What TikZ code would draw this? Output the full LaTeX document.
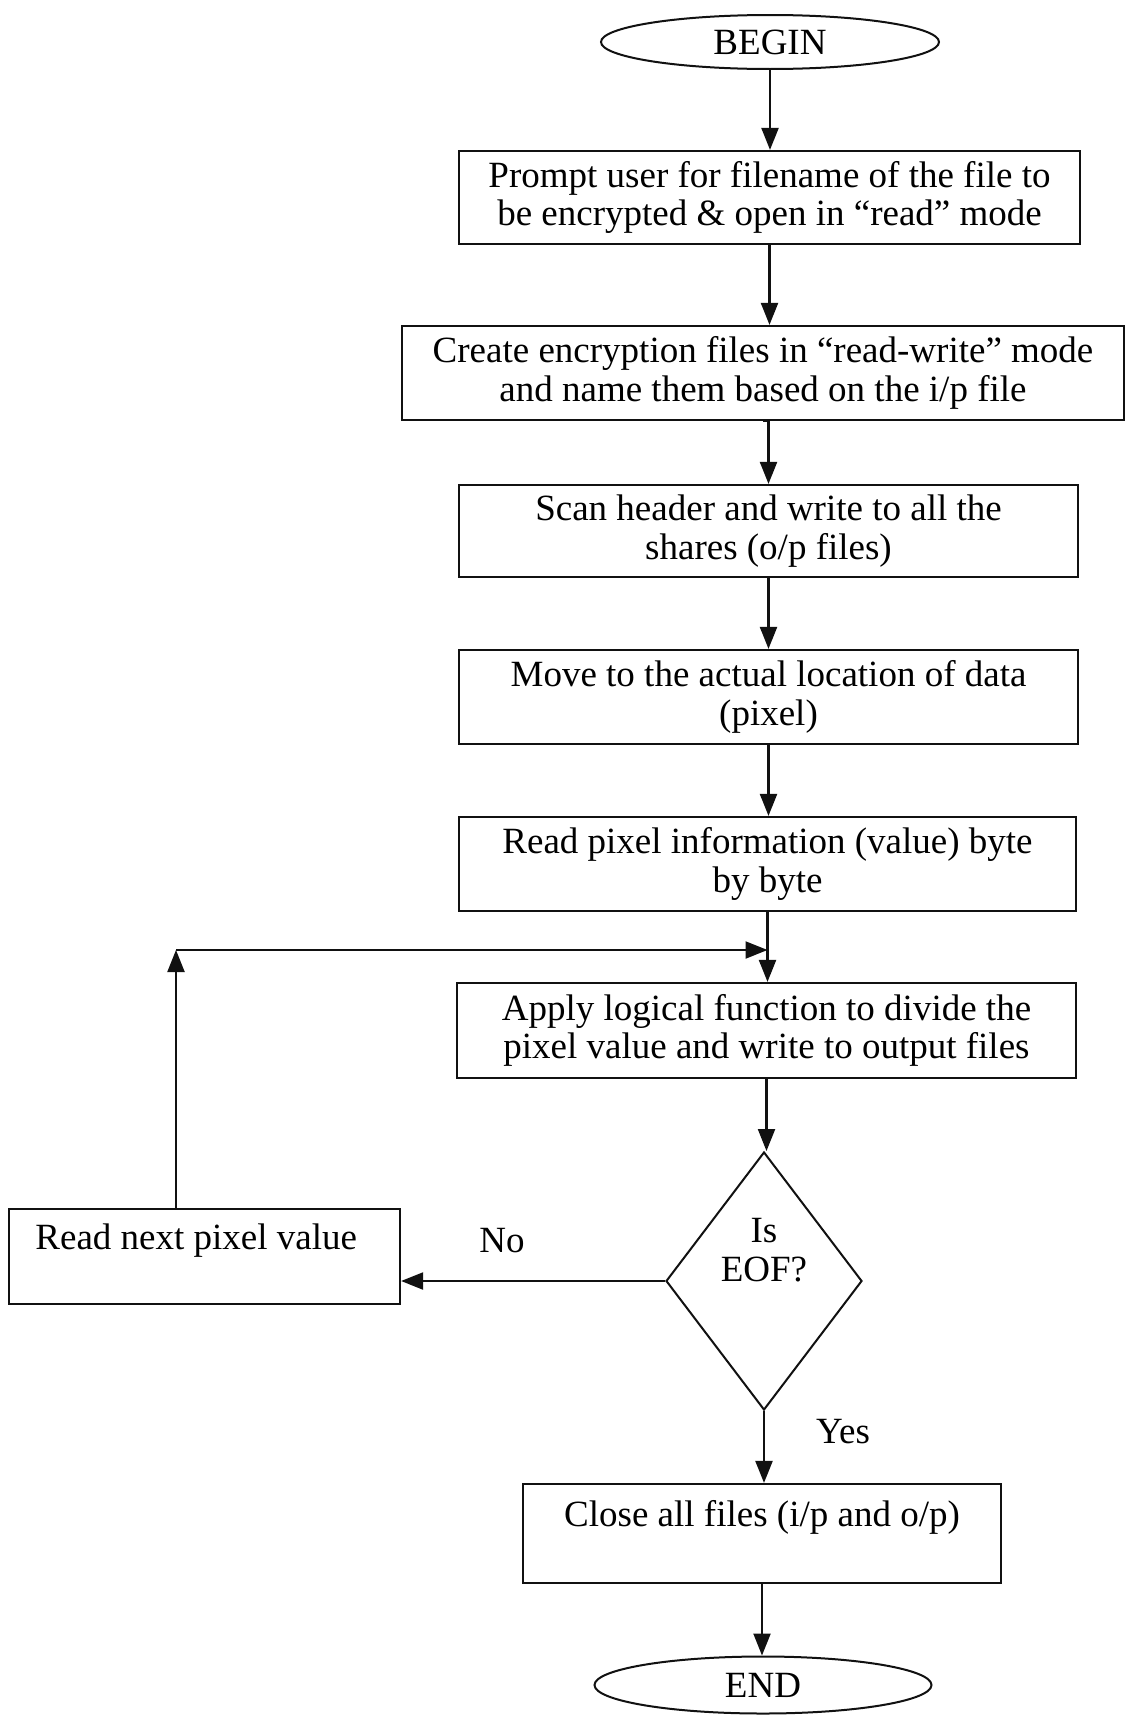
\documentclass[tikz,border=0pt]{standalone}
\usepackage{fontspec}
\setmainfont{Liberation Serif}
\usetikzlibrary{positioning, arrows.meta, shapes.geometric, calc}

\begin{document}
\begin{tikzpicture}[
    x=1pt, y=-1pt,
    >={Triangle[length=22pt, width=17pt]},
    font=\fontsize{37pt}{38.5pt}\selectfont,
    box/.style={
        rectangle,
        draw=#1,
        line width=2.2pt,
        align=center,
        minimum width=619pt,
        minimum height=93pt,
        inner sep=0pt
    },
    box/.default=line_color,
    terminal/.style={
        ellipse,
        draw=#1,
        line width=2pt,
        minimum width=338pt,
        minimum height=54pt,
        inner sep=0pt
    },
    terminal/.default=line_color,
    decision/.style={
        diamond,
        draw=#1,
        line width=2pt,
        minimum width=196pt,
        minimum height=258pt,
        inner sep=0pt
    },
    decision/.default=line_color,
    arrow/.style={
        ->,
        line width=2.2pt,
        draw=#1
    },
    arrow/.default=line_color
]

% Colors
\definecolor{line_color}{HTML}{111111}

\useasboundingbox (0,0) rectangle (1126,1721);

% Begin
\node[terminal] (begin) at (770,42) {BEGIN};

% Box 1
\node[box, minimum width=621pt] (B1) at (769.5,197.5) {Prompt user for filename of the file to\\be encrypted \& open in “read” mode};

% Box 2
\node[box, minimum width=722pt, minimum height=94pt] (B2) at (763,373) {Create encryption files in “read-write” mode\\and name them based on the i/p file};

% Box 3
\node[box, minimum height=92pt] (B3) at (768.5,531) {Scan header and write to all the\\shares (o/p files)};

% Box 4
\node[box, minimum height=94pt] (B4) at (768.5,697) {Move to the actual location of data\\(pixel)};

% Box 5
\node[box, minimum width=617pt, minimum height=94pt] (B5) at (767.5,864) {Read pixel information (value) byte\\by byte};

% Box 6
\node[box, minimum height=95pt] (B6) at (766.5,1030.5) {Apply logical function to divide the\\pixel value and write to output files};

% Decision
\node[decision] (D1) at (764,1281) {};
\node[align=center] at ([yshift=31pt]D1.center) {Is\\EOF?};

% Side Box (Left)
\node[box, minimum width=391pt, minimum height=95pt] (S1) at (204.5,1256.5) {};
\node[anchor=west] at ([xshift=24pt, yshift=16pt]S1.west) {Read next pixel value};

% Box 7
\node[box, minimum width=478pt, minimum height=99pt] (B7) at (762,1533.5) {};
\node at ([yshift=16pt]B7.center) {Close all files (i/p and o/p)};

% End
\node[terminal, minimum width=337pt, minimum height=57pt] (end) at (763,1685) {END};

% Labels
\node (no) at (502,1241) {No};
\node (yes) at (843,1432) {Yes};

% Arrows
\draw[arrow] (begin.south) -- (begin.south |- B1.north);
\draw[arrow] (B1.south) -- (B1.south |- B2.north);
\draw[arrow] (B2.south) -- (B2.south -| B3.north) -- (B3.north);
\draw[arrow] (B3.south) -- (B4.north);
\draw[arrow] (B4.south) -- (B4.south |- B5.north);
\draw[arrow] (B5.south) -- (B5.south |- B6.north);
\draw[arrow] (B6.south) -- (B6.south |- D1.north);
\draw[arrow] (D1.south) -- (D1.south |- B7.north);
\draw[arrow] (B7.south) -- (B7.south |- end.north);

% No branch
\draw[arrow] (D1.west) -- (D1.west -| S1.east);

% Loop back
\coordinate (loop) at (176,950);
\draw[arrow] (loop |- S1.north) -- (loop);
\draw[arrow] (loop) -- (loop -| B5.south);

\end{tikzpicture}
\end{document}
